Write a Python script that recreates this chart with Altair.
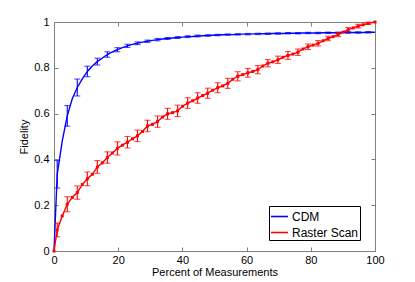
import altair as alt
import pandas as pd

# ---- data ----
x_pct = [0, 1.0, 2.56, 4.13, 5.69, 7.25, 8.81, 10.38, 11.94, 13.5, 15.06, 16.63, 18.19,
         19.75, 21.31, 22.88, 24.44, 26.0, 27.56, 29.13, 30.69, 32.25, 33.81, 35.38, 36.94,
         38.5, 40.06, 41.63, 43.19, 44.75, 46.31, 47.88, 49.44, 51.0, 52.56, 54.13, 55.69,
         57.25, 58.81, 60.38, 61.94, 63.5, 65.06, 66.63, 68.19, 69.75, 71.31, 72.88, 74.44,
         76.0, 77.56, 79.13, 80.69, 82.25, 83.81, 85.38, 86.94, 88.5, 90.06, 91.63, 93.19,
         94.75, 96.31, 97.88, 100.0]

cdm = [0, 0.335, 0.48, 0.59, 0.665, 0.714, 0.752, 0.784, 0.808, 0.827, 0.843, 0.858, 0.869,
       0.879, 0.888, 0.896, 0.902, 0.907, 0.912, 0.916, 0.920, 0.923, 0.926, 0.928, 0.930,
       0.932, 0.934, 0.936, 0.937, 0.939, 0.940, 0.941, 0.942, 0.943, 0.944, 0.945, 0.945,
       0.946, 0.947, 0.947, 0.948, 0.948, 0.949, 0.949, 0.950, 0.950, 0.950, 0.951, 0.951,
       0.951, 0.952, 0.952, 0.952, 0.952, 0.953, 0.953, 0.953, 0.953, 0.954, 0.954, 0.954,
       0.954, 0.954, 0.955, 0.955]

raster = [0, 0.092, 0.153, 0.204, 0.234, 0.255, 0.29, 0.315, 0.335, 0.367, 0.385, 0.408, 0.428,
          0.448, 0.462, 0.475, 0.49, 0.503, 0.522, 0.546, 0.553, 0.565, 0.585, 0.599, 0.604,
          0.612, 0.632, 0.646, 0.656, 0.668, 0.679, 0.689, 0.702, 0.713, 0.721, 0.732, 0.75,
          0.763, 0.770, 0.778, 0.784, 0.792, 0.808, 0.82, 0.826, 0.835, 0.846, 0.854, 0.86,
          0.868, 0.882, 0.892, 0.899, 0.907, 0.918, 0.928, 0.936, 0.945, 0.956, 0.966, 0.974,
          0.982, 0.988, 0.994, 1.0]

# error bars on every other point (starting at x = 1.0)
err_x = x_pct[1:64:2]
cdm_mid = cdm[1:64:2]
raster_mid = raster[1:64:2]
cdm_err = [0.06, 0.045, 0.037, 0.023, 0.015, 0.012, 0.009, 0.007, 0.006, 0.005, 0.005, 0.004,
           0.004, 0.004, 0.004, 0.003, 0.003, 0.003, 0.003, 0.003, 0.003, 0.003, 0.003, 0.003,
           0.003, 0.003, 0.003, 0.003, 0.003, 0.003, 0.003, 0.003]
raster_err = [0.03, 0.033, 0.029, 0.03, 0.028, 0.025, 0.029, 0.025, 0.025, 0.025, 0.025, 0.024,
              0.025, 0.023, 0.023, 0.022, 0.022, 0.022, 0.02, 0.019, 0.018, 0.016, 0.016, 0.017,
              0.014, 0.012, 0.012, 0.01, 0.009, 0.01, 0.008, 0.005]

series_names = ["CDM", "Raster Scan"]
series_colors = ["#0000ff", "#ff0000"]
x_ticks = [0, 20, 40, 60, 80, 100]
y_ticks = [0, 0.2, 0.4, 0.6, 0.8, 1]

# ---- tables ----
lines = pd.concat([
    pd.DataFrame({"x": x_pct, "y": cdm, "series": "CDM"}),
    pd.DataFrame({"x": x_pct, "y": raster, "series": "Raster Scan"}),
])
errs = pd.concat([
    pd.DataFrame({"x": err_x, "lo": [m - e for m, e in zip(cdm_mid, cdm_err)],
                  "hi": [m + e for m, e in zip(cdm_mid, cdm_err)], "series": "CDM"}),
    pd.DataFrame({"x": err_x, "lo": [m - e for m, e in zip(raster_mid, raster_err)],
                  "hi": [m + e for m, e in zip(raster_mid, raster_err)], "series": "Raster Scan"}),
])
red_pts = pd.DataFrame({"x": x_pct, "y": raster})

W, H = 321, 229
GRAY = "#808080"
xs = alt.Scale(domain=[0, 100], nice=False, zero=False)
ys = alt.Scale(domain=[0, 1], nice=False)
cs = alt.Scale(domain=series_names, range=series_colors)

# axis set A: labelled bottom/left axes, no ticks
ax_a_x = alt.Axis(orient="bottom", values=x_ticks, format="d", ticks=False, grid=False,
                  domainColor=GRAY, labelPadding=3, titlePadding=1, labelFlush=False)
ax_a_y = alt.Axis(orient="left", values=y_ticks, format="~g", ticks=False, grid=False,
                  domainColor=GRAY, labelPadding=5, titlePadding=4, labelFlush=False)
# axis set B: inward ticks along bottom and left edges
ax_b_x = alt.Axis(orient="top", offset=-H, values=x_ticks, labels=False, ticks=True,
                  tickSize=4, tickColor=GRAY, domain=False, grid=False)
ax_b_y = alt.Axis(orient="right", offset=-W, values=y_ticks, labels=False, ticks=True,
                  tickSize=4, tickColor=GRAY, domain=False, grid=False)
# axis set C: top and right frame with inward ticks
ax_c_x = alt.Axis(orient="bottom", offset=-H, values=x_ticks, labels=False, ticks=True,
                  tickSize=4, tickColor=GRAY, domainColor=GRAY, grid=False)
ax_c_y = alt.Axis(orient="left", offset=-W, values=y_ticks, labels=False, ticks=True,
                  tickSize=4, tickColor=GRAY, domainColor=GRAY, grid=False)

legend = alt.Legend(orient="none", legendX=215, legendY=184, title=None,
                    fillColor="white", strokeColor="black", padding=1,
                    symbolType="stroke", symbolSize=289, symbolStrokeWidth=1.6,
                    labelFontSize=12, labelOffset=3, rowPadding=0, labelColor="black",
                    offset=0)

line_layer = alt.Chart(lines).mark_line(strokeWidth=1.4).encode(
    x=alt.X("x:Q", scale=xs, axis=ax_a_x, title="Percent of Measurements"),
    y=alt.Y("y:Q", scale=ys, axis=ax_a_y, title="Fidelity"),
    color=alt.Color("series:N", scale=cs, legend=legend),
    detail="series:N",
)

rule_layer = alt.Chart(errs).mark_rule(strokeWidth=1.1).encode(
    x=alt.X("x:Q", scale=xs, axis=ax_b_x, title=None),
    y=alt.Y("lo:Q", scale=ys, axis=ax_b_y, title=None),
    y2="hi:Q",
    color=alt.Color("series:N", scale=cs, legend=None),
)

cap_lo = alt.Chart(errs).mark_tick(orient="horizontal", size=6, thickness=1.1).encode(
    x=alt.X("x:Q", scale=xs, axis=ax_c_x, title=None),
    y=alt.Y("lo:Q", scale=ys, axis=ax_c_y, title=None),
    color=alt.Color("series:N", scale=cs, legend=None),
)

cap_hi = alt.Chart(errs).mark_tick(orient="horizontal", size=6, thickness=1.1).encode(
    x=alt.X("x:Q", scale=xs, axis=None),
    y=alt.Y("hi:Q", scale=ys, axis=None),
    color=alt.Color("series:N", scale=cs, legend=None),
)

pts = alt.Chart(red_pts).mark_square(size=9, color="#ff0000", opacity=1).encode(
    x=alt.X("x:Q", scale=xs, axis=None),
    y=alt.Y("y:Q", scale=ys, axis=None),
)

chart = alt.layer(line_layer, rule_layer, cap_lo, cap_hi, pts).resolve_axis(
    x="independent", y="independent"
).properties(
    width=W, height=H,
    autosize=alt.AutoSizeParams(type="none"),
    padding={"left": 46, "top": 14, "right": 32, "bottom": 28},
).configure_view(stroke=None).configure_axis(
    labelFont="Liberation Sans", titleFont="Liberation Sans",
    labelFontSize=11, titleFontSize=11, labelColor="black", titleColor="black",
    titleFontWeight="normal",
).configure_legend(labelFont="Liberation Sans")

chart.save("out.html", embed_options={"renderer": "svg", "actions": False})
